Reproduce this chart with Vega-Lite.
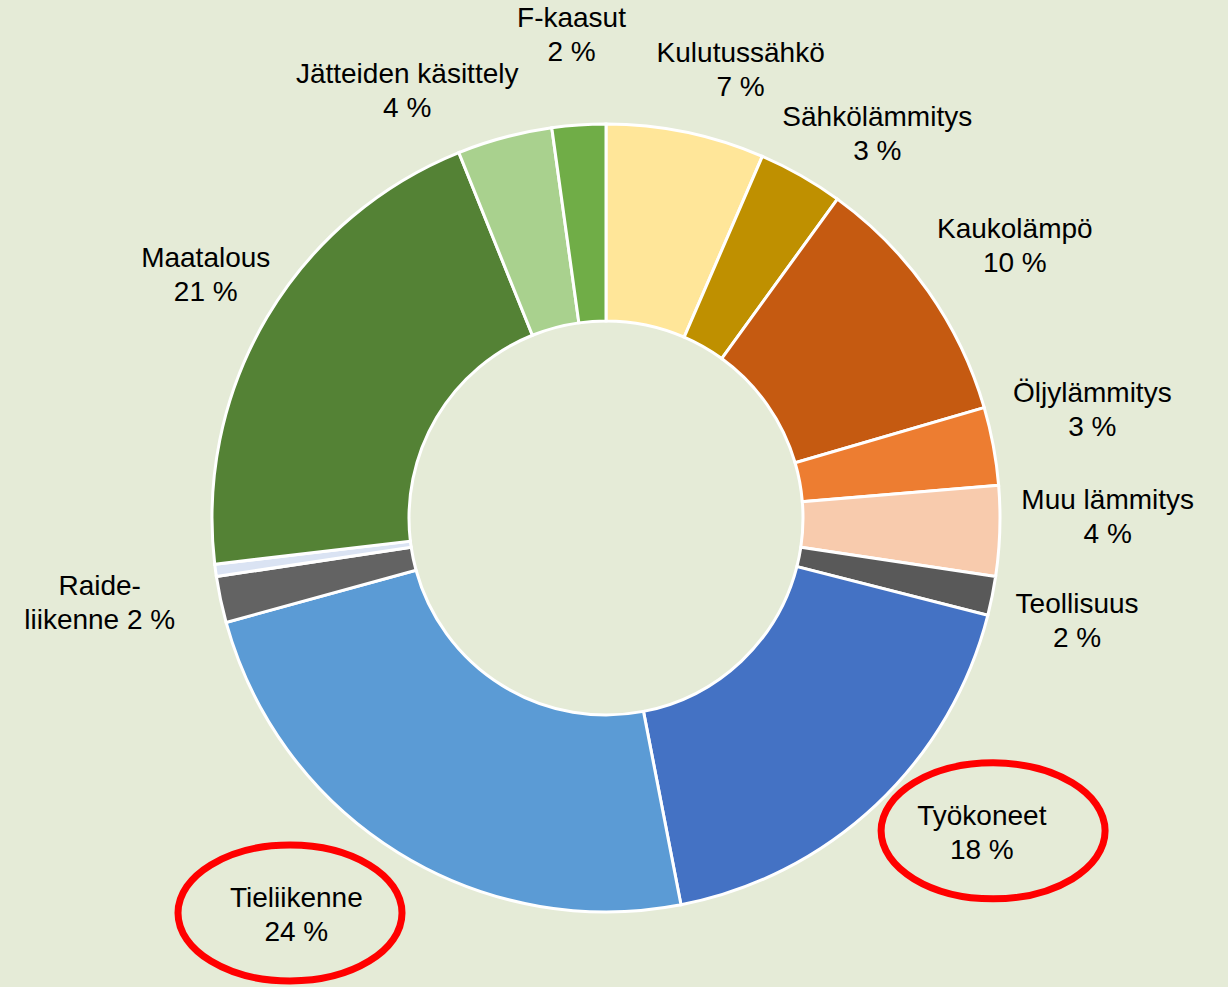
{
  "$schema": "https://vega.github.io/schema/vega-lite/v6.json",
  "width": 1212,
  "height": 938,
  "autosize": {"type": "none"},
  "padding": {"left": 0, "top": 49, "right": 16, "bottom": 0},
  "background": "#E5EBD7",
  "config": {
    "view": {"stroke": null},
    "text": {"font": "Liberation Sans", "fontSize": 28, "lineHeight": 34, "lineBreak": "\n", "align": "center", "baseline": "middle", "color": "#000000"}
  },
  "datasets": {
    "shares": [
      {"order": 1, "sector": "Kulutussähkö", "value": 6.5, "label": "Kulutussähkö\n7 %"},
      {"order": 2, "sector": "Sähkölämmitys", "value": 3.5, "label": "Sähkölämmitys\n3 %"},
      {"order": 3, "sector": "Kaukolämpö", "value": 10.5, "label": "Kaukolämpö\n10 %"},
      {"order": 4, "sector": "Öljylämmitys", "value": 3.2, "label": "Öljylämmitys\n3 %"},
      {"order": 5, "sector": "Muu lämmitys", "value": 3.7, "label": "Muu lämmitys\n4 %"},
      {"order": 6, "sector": "Teollisuus", "value": 1.6, "label": "Teollisuus\n2 %"},
      {"order": 7, "sector": "Työkoneet", "value": 18.0, "label": "Työkoneet\n18 %"},
      {"order": 8, "sector": "Tieliikenne", "value": 23.8, "label": "Tieliikenne\n24 %"},
      {"order": 9, "sector": "Raideliikenne", "value": 1.9, "label": "Raide-\nliikenne 2 %"},
      {"order": 10, "sector": "Vesiliikenne", "value": 0.5, "label": ""},
      {"order": 11, "sector": "Maatalous", "value": 20.8, "label": "Maatalous\n21 %"},
      {"order": 12, "sector": "Jätteiden käsittely", "value": 3.9, "label": "Jätteiden käsittely\n4 %"},
      {"order": 13, "sector": "F-kaasut", "value": 2.2, "label": "F-kaasut\n2 %"}
    ],
    "highlights": [
      {"sector": "Työkoneet", "x": 0.98, "y": -0.792},
      {"sector": "Tieliikenne", "x": -0.8, "y": -1.0}
    ]
  },
  "layer": [
    {
      "data": {"name": "shares"},
      "mark": {"type": "arc", "outerRadius": 394, "innerRadius": 197, "stroke": "white", "strokeWidth": 3},
      "encoding": {
        "theta": {"field": "value", "type": "quantitative", "stack": true},
        "order": {"field": "order", "type": "quantitative"},
        "color": {
          "field": "sector",
          "type": "nominal",
          "legend": null,
          "scale": {
            "domain": ["Kulutussähkö", "Sähkölämmitys", "Kaukolämpö", "Öljylämmitys", "Muu lämmitys", "Teollisuus", "Työkoneet", "Tieliikenne", "Raideliikenne", "Vesiliikenne", "Maatalous", "Jätteiden käsittely", "F-kaasut"],
            "range": ["#FFE699", "#BF9000", "#C55A11", "#ED7D31", "#F8CBAD", "#595959", "#4472C4", "#5B9BD5", "#636363", "#DAE3F3", "#548235", "#A9D18E", "#70AD47"]
          }
        }
      }
    },
    {
      "data": {"name": "shares"},
      "encoding": {
        "theta": {"field": "value", "type": "quantitative", "stack": true},
        "order": {"field": "order", "type": "quantitative"}
      },
      "layer": [
        {
          "mark": {"type": "text", "radius": 500, "thetaOffset": 0},
          "encoding": {"text": {"condition": {"test": "indexof(['F-kaasut','Kaukolämpö'], datum.sector) >= 0", "field": "label"}, "value": ""}}
        },
        {
          "mark": {"type": "text", "radius": 479, "thetaOffset": -0.017},
          "encoding": {"text": {"condition": {"test": "datum.sector === 'Teollisuus'", "field": "label"}, "value": ""}}
        },
        {
          "mark": {"type": "text", "radius": 477, "thetaOffset": 0.04},
          "encoding": {"text": {"condition": {"test": "datum.sector === 'Maatalous'", "field": "label"}, "value": ""}}
        },
        {
          "mark": {"type": "text", "radius": 483, "thetaOffset": 0.0785},
          "encoding": {"text": {"condition": {"test": "indexof(['Kulutussähkö','Sähkölämmitys'], datum.sector) >= 0", "field": "label"}, "value": ""}}
        },
        {
          "mark": {"type": "text", "radius": 502, "thetaOffset": -0.067},
          "encoding": {"text": {"condition": {"test": "indexof(['Öljylämmitys','Muu lämmitys'], datum.sector) >= 0", "field": "label"}, "value": ""}}
        },
        {
          "mark": {"type": "text", "radius": 480, "thetaOffset": -0.143},
          "encoding": {"text": {"condition": {"test": "datum.sector === 'Työkoneet'", "field": "label"}, "value": ""}}
        },
        {
          "mark": {"type": "text", "radius": 491, "thetaOffset": 0.127},
          "encoding": {"text": {"condition": {"test": "datum.sector === 'Tieliikenne'", "field": "label"}, "value": ""}}
        },
        {
          "mark": {"type": "text", "radius": 511, "thetaOffset": 0.073},
          "encoding": {"text": {"condition": {"test": "datum.sector === 'Raideliikenne'", "field": "label"}, "value": ""}}
        },
        {
          "mark": {"type": "text", "radius": 486, "thetaOffset": -0.161},
          "encoding": {"text": {"condition": {"test": "datum.sector === 'Jätteiden käsittely'", "field": "label"}, "value": ""}}
        }
      ]
    },
    {
      "data": {"name": "highlights"},
      "mark": {
        "type": "point",
        "shape": "M -1 0 C -1 -0.3352 -0.5523 -0.607 0 -0.607 C 0.5523 -0.607 1 -0.3352 1 0 C 1 0.3352 0.5523 0.607 0 0.607 C -0.5523 0.607 -1 0.3352 -1 0 Z",
        "size": 50176,
        "filled": false,
        "stroke": "#FF0000",
        "strokeWidth": 7,
        "opacity": 1
      },
      "encoding": {
        "x": {"field": "x", "type": "quantitative", "axis": null, "scale": {"domain": [-1.5342, 1.5342], "nice": false, "zero": false}},
        "y": {"field": "y", "type": "quantitative", "axis": null, "scale": {"domain": [-1.1873, 1.1873], "nice": false, "zero": false}}
      }
    }
  ]
}
